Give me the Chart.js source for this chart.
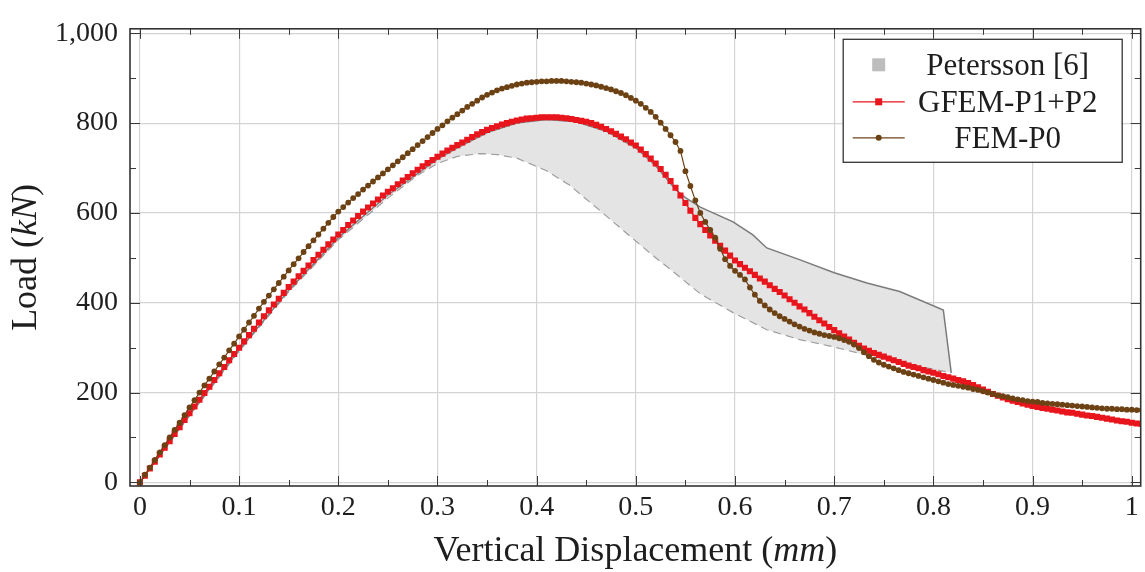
<!DOCTYPE html>
<html><head><meta charset="utf-8">
<script src="https://cdn.jsdelivr.net/npm/chart.js@4.4.1/dist/chart.umd.min.js"></script>
<style>html,body{margin:0;padding:0;background:#fff;overflow:hidden}</style>
</head><body><canvas id="c" width="1145" height="572"></canvas>
<script>
const displacement = [0,0.005,0.01,0.015,0.02,0.025,0.03,0.035,0.04,0.045,0.05,0.055,0.06,0.065,0.07,0.075,0.08,0.085,0.09,0.095,
0.1,0.105,0.11,0.115,0.12,0.125,0.13,0.135,0.14,0.145,0.15,0.155,0.16,0.165,0.17,0.175,0.18,0.185,0.19,0.195,
0.2,0.205,0.21,0.215,0.22,0.225,0.23,0.235,0.24,0.245,0.25,0.255,0.26,0.265,0.27,0.275,0.28,0.285,0.29,0.295,
0.3,0.305,0.31,0.315,0.32,0.325,0.33,0.335,0.34,0.345,0.35,0.355,0.36,0.365,0.37,0.375,0.38,0.385,0.39,0.395,
0.4,0.405,0.41,0.415,0.42,0.425,0.43,0.435,0.44,0.445,0.45,0.455,0.46,0.465,0.47,0.475,0.48,0.485,0.49,0.495,
0.5,0.505,0.51,0.515,0.52,0.525,0.53,0.535,0.54,0.545,0.55,0.555,0.56,0.565,0.57,0.575,0.58,0.585,0.59,0.595,
0.6,0.605,0.61,0.615,0.62,0.625,0.63,0.635,0.64,0.645,0.65,0.655,0.66,0.665,0.67,0.675,0.68,0.685,0.69,0.695,
0.7,0.705,0.71,0.715,0.72,0.725,0.73,0.735,0.74,0.745,0.75,0.755,0.76,0.765,0.77,0.775,0.78,0.785,0.79,0.795,
0.8,0.805,0.81,0.815,0.82,0.825,0.83,0.835,0.84,0.845,0.85,0.855,0.86,0.865,0.87,0.875,0.88,0.885,0.89,0.895,
0.9,0.905,0.91,0.915,0.92,0.925,0.93,0.935,0.94,0.945,0.95,0.955,0.96,0.965,0.97,0.975,0.98,0.985,0.99,0.995,
1.0,1.005,1.01];

const gfemLoad = [0,15,31,46,62,77,92,108,123,139,154,169,184,199,213,228,243,257,272,286,
300,314,328,342,356,370,383,396,409,422,435,447,459,471,483,495,507,518,530,541,
552,562,573,583,593,603,612,621,630,639,647,655,664,672,680,688,696,704,711,718,
725,732,739,745,751,757,763,769,775,780,785,789,793,797,800,803,806,808,810,811,
812,813,813,813,813,812,811,809,807,805,803,800,796,792,787,782,776,770,764,757,
750,741,731,721,710,698,685,671,656,639,622,605,589,575,562,550,538,527,516,505,
494,486,478,470,462,454,447,439,431,424,416,408,400,392,385,377,369,361,354,346,
339,332,325,318,311,304,298,293,288,284,280,276,272,268,264,260,257,254,250,247,
244,241,237,234,231,228,225,221,217,212,207,202,197,193,189,185,182,179,176,173,
170,168,166,164,162,160,158,156,155,153,151,149,148,146,144,142,140,138,136,135,
133,131,130];

const femLoad = [0,17,33,50,67,83,100,117,133,150,167,183,200,216,231,247,263,278,294,309,
325,340,356,371,387,402,416,430,444,458,472,486,499,513,526,539,552,565,578,591,
603,613,623,633,642,652,661,670,679,688,697,706,715,724,733,742,751,760,769,778,
787,795,804,812,820,828,836,843,850,857,863,868,873,877,880,883,886,888,890,891,
892,893,893,894,894,894,893,892,891,890,888,886,884,881,878,875,871,867,862,856,
850,843,834,825,814,801,787,773,758,738,693,660,628,600,580,562,545,520,497,482,
471,462,452,434,418,404,394,385,377,370,364,358,352,347,342,338,334,331,328,326,
324,321,317,313,307,299,290,281,273,267,262,258,254,250,246,243,240,237,234,231,
228,225,222,219,217,215,213,211,208,206,203,200,197,194,192,190,187,185,183,181,
180,179,177,176,175,174,173,172,171,170,169,168,167,166,165,164,164,163,163,162,
162,161,161];

const peterssonUpperX = [0,0.05,0.1,0.15,0.2,0.25,0.3,0.32,0.35,0.38,0.41,0.44,0.47,0.5,0.52,0.54,0.55,0.565,0.598,0.618,0.632,0.665,0.7,0.733,0.766,0.81,0.818];
const peterssonUpperY = [0,150,295,428,545,640,720,745,779,800,808,803,782,745,705,652,634,613,580,551,522,496,467,444,425,384,244];
const peterssonLowerX = [0,0.05,0.1,0.15,0.2,0.25,0.28,0.3,0.32,0.343,0.36,0.38,0.41,0.433,0.464,0.49,0.514,0.54,0.565,0.598,0.632,0.665,0.699,0.733,0.77,0.8,0.818];
const peterssonLowerY = [0,148,292,424,540,633,684,710,726,732,730,722,694,662,605,556,511,465,420,378,340,318,302,283,264,252,244];

const xTickValues = [0,0.1,0.2,0.3,0.4,0.5,0.6,0.7,0.8,0.9,1];
const xTickLabels = ['0','0.1','0.2','0.3','0.4','0.5','0.6','0.7','0.8','0.9','1'];
const xMinorTicks = [0.05,0.15,0.25,0.35,0.45,0.55,0.65,0.75,0.85,0.95];
const yTickValues = [0,200,400,600,800,1000];
const yTickLabels = ['0','200','400','600','800','1,000'];
const yMinorTicks = [100,300,500,700,900];
const seriesNames = ['Petersson [6]','GFEM-P1+P2','FEM-P0'];
const xTitle = ['Vertical Displacement (','mm',')'];
const yTitle = ['Load (','kN',')'];

const pts = (xs, ys) => xs.map((v, i) => ({x: v, y: ys[i]}));
const upperPts = pts(peterssonUpperX, peterssonUpperY);
const lowerPts = pts(peterssonLowerX, peterssonLowerY);
const bandPts = upperPts.concat(lowerPts.slice().reverse());

const RED = '#e8151d', BROWN = '#6c4214', BAND = '#e4e4e4';
const SERIF = '"Liberation Serif", "Times New Roman", serif';

const decor = {
  id: 'decor',
  afterDatasetsDraw(chart) {
    const {ctx, chartArea: a, scales: {x, y}} = chart;
    ctx.save();
    ctx.strokeStyle = '#3a3a3a';
    ctx.lineWidth = 1;
    const seg = (x1, y1, x2, y2) => { ctx.beginPath(); ctx.moveTo(x1, y1); ctx.lineTo(x2, y2); ctx.stroke(); };
    xTickValues.forEach(v => { const p = Math.round(x.getPixelForValue(v)) + 0.5; seg(p, a.bottom, p, a.bottom - 10); seg(p, a.top, p, a.top + 10); });
    xMinorTicks.forEach(v => { const p = Math.round(x.getPixelForValue(v)) + 0.5; seg(p, a.bottom, p, a.bottom - 6); seg(p, a.top, p, a.top + 6); });
    yTickValues.forEach(v => { const p = Math.round(y.getPixelForValue(v)) + 0.5; seg(a.left, p, a.left + 10, p); seg(a.right, p, a.right - 10, p); });
    yMinorTicks.forEach(v => { const p = Math.round(y.getPixelForValue(v)) + 0.5; seg(a.left, p, a.left + 6, p); seg(a.right, p, a.right - 6, p); });
    ctx.lineWidth = 1.6;
    ctx.strokeStyle = '#333';
    ctx.strokeRect(a.left, a.top, a.right - a.left, a.bottom - a.top);
    ctx.restore();
  },
  afterDraw(chart) {
    const {ctx, chartArea: a} = chart;
    ctx.save();
    ctx.fillStyle = '#1e1e1e';
    const parts = (arr, size) => {
      const fonts = [size + 'px ' + SERIF, 'italic ' + size + 'px ' + SERIF, size + 'px ' + SERIF];
      const w = arr.map((t, i) => { ctx.font = fonts[i]; return ctx.measureText(t).width; });
      return {fonts, w, total: w[0] + w[1] + w[2]};
    };
    const drawParts = (arr, size, cx, base) => {
      const p = parts(arr, size);
      let sx = cx - p.total / 2;
      ctx.textBaseline = 'alphabetic';
      ctx.textAlign = 'left';
      arr.forEach((t, i) => { ctx.font = p.fonts[i]; ctx.fillText(t, sx, base); sx += p.w[i]; });
    };
    drawParts(xTitle, 36, (a.left + a.right) / 2, 561);
    ctx.save();
    ctx.translate(36, (a.top + a.bottom) / 2);
    ctx.rotate(-Math.PI / 2);
    drawParts(yTitle, 36, 0, 0);
    ctx.restore();

    // legend
    const L = a.right - 298, T = a.top + 10, W = 279, H = 123;
    ctx.fillStyle = '#fff';
    ctx.fillRect(L, T, W, H);
    ctx.strokeStyle = '#333';
    ctx.lineWidth = 1.3;
    ctx.strokeRect(L + 0.5, T + 0.5, W, H);
    const rows = [T + 26, T + 63, T + 99];
    const mx = L + 36;
    ctx.fillStyle = '#bdbdbd';
    ctx.fillRect(mx - 6.5, rows[0] - 6.5, 13, 13);
    ctx.lineWidth = 1.3;
    ctx.strokeStyle = RED;
    ctx.beginPath(); ctx.moveTo(L + 10, rows[1]); ctx.lineTo(L + 62, rows[1]); ctx.stroke();
    ctx.fillStyle = RED;
    ctx.fillRect(mx - 3.5, rows[1] - 3.5, 7, 7);
    ctx.strokeStyle = BROWN;
    ctx.beginPath(); ctx.moveTo(L + 10, rows[2]); ctx.lineTo(L + 62, rows[2]); ctx.stroke();
    ctx.fillStyle = BROWN;
    ctx.beginPath(); ctx.arc(mx, rows[2], 3, 0, Math.PI * 2); ctx.fill();
    ctx.fillStyle = '#1e1e1e';
    ctx.font = '31px ' + SERIF;
    ctx.textAlign = 'center';
    ctx.textBaseline = 'alphabetic';
    seriesNames.forEach((n, i) => ctx.fillText(n, L + 165, rows[i] + 10));
    ctx.restore();
  }
};

new Chart(document.getElementById('c'), {
  type: 'scatter',
  data: {
    datasets: [
      {label: 'band', data: bandPts, showLine: true, fill: 'shape', backgroundColor: BAND, borderWidth: 0, borderColor: 'rgba(0,0,0,0)', pointRadius: 0, order: 4},
      {label: 'upper', data: upperPts, showLine: true, fill: false, borderColor: '#7b7b7b', borderWidth: 1.5, pointRadius: 0, order: 3},
      {label: 'lower', data: lowerPts, showLine: true, fill: false, borderColor: '#9e9e9e', borderWidth: 1.2, borderDash: [8, 5], pointRadius: 0, order: 3},
      {label: seriesNames[1], data: pts(displacement, gfemLoad), showLine: true, borderColor: RED, borderWidth: 1.3, pointStyle: 'rect', pointRadius: 4.3, pointBackgroundColor: RED, pointBorderWidth: 0, order: 1},
      {label: seriesNames[2], data: pts(displacement, femLoad), showLine: true, borderColor: BROWN, borderWidth: 1.2, pointStyle: 'circle', pointRadius: 2.9, pointBackgroundColor: BROWN, pointBorderWidth: 0, order: 0}
    ]
  },
  options: {
    responsive: false,
    animation: false,
    devicePixelRatio: 1,
    layout: {padding: {top: 27, right: 4, left: 0, bottom: 0}},
    plugins: {legend: {display: false}, tooltip: {enabled: false}},
    scales: {
      x: {
        type: 'linear', min: -0.01, max: 1.009,
        afterBuildTicks: s => { s.ticks = xTickValues.map(v => ({value: v})); },
        afterFit: s => { s.height = 86; },
        ticks: {callback: (v, i) => xTickLabels[i], font: {family: SERIF, size: 28}, color: '#1e1e1e', padding: 5, maxRotation: 0, autoSkip: false},
        grid: {color: '#d4d4d4', lineWidth: 1.2, drawTicks: false},
        border: {display: false}
      },
      y: {
        type: 'linear', min: -8, max: 1010,
        afterBuildTicks: s => { s.ticks = yTickValues.map(v => ({value: v})); },
        afterFit: s => { s.width = 130; },
        ticks: {callback: (v, i) => yTickLabels[i], font: {family: SERIF, size: 28}, color: '#1e1e1e', padding: 12, autoSkip: false},
        grid: {color: '#d4d4d4', lineWidth: 1.2, drawTicks: false},
        border: {display: false}
      }
    }
  },
  plugins: [decor]
});
</script></body></html>
